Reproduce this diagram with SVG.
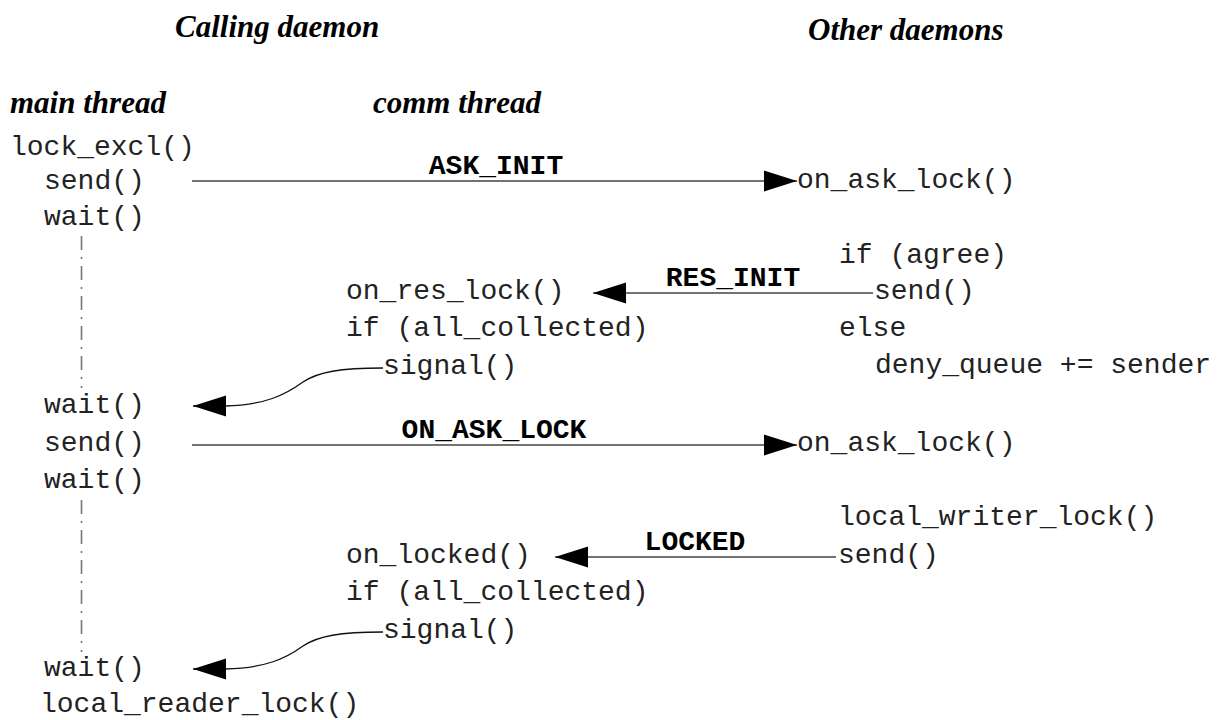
<svg xmlns="http://www.w3.org/2000/svg" width="1231" height="720" viewBox="0 0 1231 720">
  <style>
    .hdr { font-family: "Liberation Serif", "Times New Roman", serif; font-weight: bold; font-style: italic; font-size: 31px; fill: #000; }
    .code { font-family: "Liberation Mono", "Courier New", monospace; font-size: 28px; fill: #222; }
    .msg { font-family: "Liberation Mono", "Courier New", monospace; font-size: 28px; font-weight: bold; fill: #000; text-anchor: middle; }
    .wire { fill: none; stroke: #444; stroke-width: 1.4; }
    .curve { fill: none; stroke: #111; stroke-width: 1.3; }
    .life { fill: none; stroke: #777; stroke-width: 1.6; stroke-dasharray: 14 7 2 7; }
  </style>
  <defs>
    <marker id="head" markerUnits="userSpaceOnUse" markerWidth="34" markerHeight="22" refX="33" refY="11" orient="auto">
      <path d="M0,0.5 L33,11 L0,21.5 z" fill="#000"/>
    </marker>
  </defs>
  <rect width="1231" height="720" fill="#fff"/>

  <!-- column headings -->
  <g id="headings">
    <text class="hdr" x="175" y="37">Calling daemon</text>
    <text class="hdr" x="808" y="40">Other daemons</text>
    <text class="hdr" x="10" y="113">main thread</text>
    <text class="hdr" x="373" y="113">comm thread</text>
  </g>

  <!-- main thread of the calling daemon -->
  <g id="main-thread">
    <text class="code" x="10" y="155">lock_excl()</text>
    <text class="code" x="44" y="189">send()</text>
    <text class="code" x="44" y="225">wait()</text>
    <text class="code" x="44" y="413">wait()</text>
    <text class="code" x="44" y="451">send()</text>
    <text class="code" x="44" y="488">wait()</text>
    <text class="code" x="44" y="676">wait()</text>
    <text class="code" x="40" y="712">local_reader_lock()</text>
    <line class="life" x1="81.5" y1="236" x2="81.5" y2="388"/>
    <line class="life" x1="81.5" y1="500" x2="81.5" y2="652"/>
  </g>

  <!-- comm thread of the calling daemon -->
  <g id="comm-thread">
    <text class="code" x="346" y="299">on_res_lock()</text>
    <text class="code" x="346" y="336">if (all_collected)</text>
    <text class="code" x="383" y="374">signal()</text>
    <text class="code" x="346" y="563">on_locked()</text>
    <text class="code" x="346" y="600">if (all_collected)</text>
    <text class="code" x="383" y="638">signal()</text>
  </g>

  <!-- remote daemons -->
  <g id="other-daemons">
    <text class="code" x="797" y="188">on_ask_lock()</text>
    <text class="code" x="839" y="263">if (agree)</text>
    <text class="code" x="874" y="299">send()</text>
    <text class="code" x="839" y="336">else</text>
    <text class="code" x="875" y="373">deny_queue += sender</text>
    <text class="code" x="797" y="451">on_ask_lock()</text>
    <text class="code" x="838" y="525">local_writer_lock()</text>
    <text class="code" x="838" y="563">send()</text>
  </g>

  <!-- messages between threads and daemons -->
  <g id="connectors">
    <line class="wire" x1="192" y1="181" x2="797" y2="181" marker-end="url(#head)"/>
    <text class="msg" x="496" y="174">ASK_INIT</text>

    <line class="wire" x1="873" y1="293" x2="593" y2="293" marker-end="url(#head)"/>
    <text class="msg" x="733" y="286">RES_INIT</text>

    <path class="curve" d="M383,368 C340,368 318,372 303,382 C285,395 265,405 225,406 L193,406" marker-end="url(#head)"/>

    <line class="wire" x1="192" y1="445" x2="797" y2="445" marker-end="url(#head)"/>
    <text class="msg" x="494" y="438">ON_ASK_LOCK</text>

    <line class="wire" x1="836" y1="557" x2="555" y2="557" marker-end="url(#head)"/>
    <text class="msg" x="695" y="550">LOCKED</text>

    <path class="curve" d="M383,632 C340,632 318,636 303,646 C285,659 265,668 225,669 L193,669" marker-end="url(#head)"/>
  </g>
</svg>
